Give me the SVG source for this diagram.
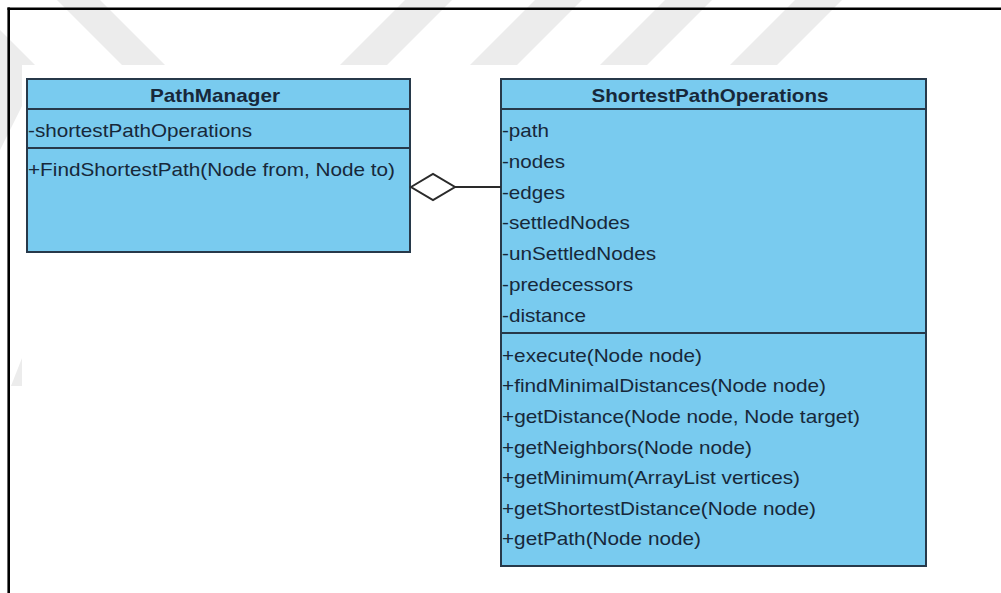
<svg xmlns="http://www.w3.org/2000/svg" width="1001" height="593" viewBox="0 0 1001 593">
  <style>
    .wm { fill: #ececec; }
    .cls { fill: #79cbef; stroke: #27394a; stroke-width: 2; }
    .sep { stroke: #27394a; stroke-width: 2; fill: none; }
    .title { font-family: "Liberation Sans", Arial, sans-serif; font-size: 19px; font-weight: bold; fill: #17283a; text-anchor: middle; }
    .mem { font-family: "Liberation Sans", Arial, sans-serif; font-size: 19px; fill: #17283a; }
    .edge { stroke: #2a2a2a; stroke-width: 2; fill: none; }
    .diamond { fill: #ffffff; stroke: #2a2a2a; stroke-width: 2; }
  </style>

  <!-- page background -->
  <rect x="0" y="0" width="1001" height="593" fill="#ffffff"/>

  <!-- faint striped background pattern -->
  <g id="background-stripes">
    <polygon class="wm" points="57,0 100,0 165,65 122,65"/>
    <polygon class="wm" points="405,0 452,0 387,65 340,65"/>
    <polygon class="wm" points="535,0 582,0 517,65 470,65"/>
    <polygon class="wm" points="665,0 712,0 647,65 600,65"/>
    <polygon class="wm" points="795,0 842,0 777,65 730,65"/>
    <polygon class="wm" points="0,30 40,70 0,150"/>
    <polygon class="wm" points="22,358 22,386 11,386"/>
  </g>

  <!-- drawing area -->
  <rect x="22" y="65" width="979" height="528" fill="#ffffff"/>

  <!-- outer frame -->
  <g id="frame">
    <line x1="7.5" y1="8.7" x2="1001" y2="8.7" stroke="#000" stroke-width="2.6"/>
    <line x1="8.7" y1="7.5" x2="8.7" y2="593" stroke="#000" stroke-width="2.6"/>
  </g>

  <!-- class: PathManager -->
  <g id="PathManager">
    <rect class="cls" x="27" y="79" width="383" height="173"/>
    <line class="sep" x1="27" y1="109" x2="410" y2="109"/>
    <line class="sep" x1="27" y1="148" x2="410" y2="148"/>
    <text class="title" x="215" y="102" textLength="130" lengthAdjust="spacingAndGlyphs">PathManager</text>
    <text class="mem" x="28" y="137" textLength="224" lengthAdjust="spacingAndGlyphs">-shortestPathOperations</text>
    <text class="mem" x="28" y="176" textLength="367" lengthAdjust="spacingAndGlyphs">+FindShortestPath(Node from, Node to)</text>
  </g>

  <!-- class: ShortestPathOperations -->
  <g id="ShortestPathOperations">
    <rect class="cls" x="501" y="79" width="425" height="487"/>
    <line class="sep" x1="501" y1="109" x2="926" y2="109"/>
    <line class="sep" x1="501" y1="333" x2="926" y2="333"/>
    <text class="title" x="710" y="102" textLength="237" lengthAdjust="spacingAndGlyphs">ShortestPathOperations</text>
    <text class="mem" x="502" y="137" textLength="47" lengthAdjust="spacingAndGlyphs">-path</text>
    <text class="mem" x="502" y="167.8" textLength="63" lengthAdjust="spacingAndGlyphs">-nodes</text>
    <text class="mem" x="502" y="198.6" textLength="63" lengthAdjust="spacingAndGlyphs">-edges</text>
    <text class="mem" x="502" y="229.4" textLength="128" lengthAdjust="spacingAndGlyphs">-settledNodes</text>
    <text class="mem" x="502" y="260.2" textLength="154" lengthAdjust="spacingAndGlyphs">-unSettledNodes</text>
    <text class="mem" x="502" y="291" textLength="131" lengthAdjust="spacingAndGlyphs">-predecessors</text>
    <text class="mem" x="502" y="321.8" textLength="84" lengthAdjust="spacingAndGlyphs">-distance</text>
    <text class="mem" x="502" y="361.7" textLength="200" lengthAdjust="spacingAndGlyphs">+execute(Node node)</text>
    <text class="mem" x="502" y="392.3" textLength="324" lengthAdjust="spacingAndGlyphs">+findMinimalDistances(Node node)</text>
    <text class="mem" x="502" y="422.9" textLength="358" lengthAdjust="spacingAndGlyphs">+getDistance(Node node, Node target)</text>
    <text class="mem" x="502" y="453.5" textLength="250" lengthAdjust="spacingAndGlyphs">+getNeighbors(Node node)</text>
    <text class="mem" x="502" y="484.1" textLength="298" lengthAdjust="spacingAndGlyphs">+getMinimum(ArrayList vertices)</text>
    <text class="mem" x="502" y="514.7" textLength="314" lengthAdjust="spacingAndGlyphs">+getShortestDistance(Node node)</text>
    <text class="mem" x="502" y="545.3" textLength="199" lengthAdjust="spacingAndGlyphs">+getPath(Node node)</text>
  </g>

  <!-- aggregation: PathManager holds ShortestPathOperations -->
  <g id="connectors">
    <line class="edge" x1="455" y1="187" x2="501" y2="187"/>
    <polygon class="diamond" points="411,187 433,174 455,187 433,200"/>
  </g>
</svg>
